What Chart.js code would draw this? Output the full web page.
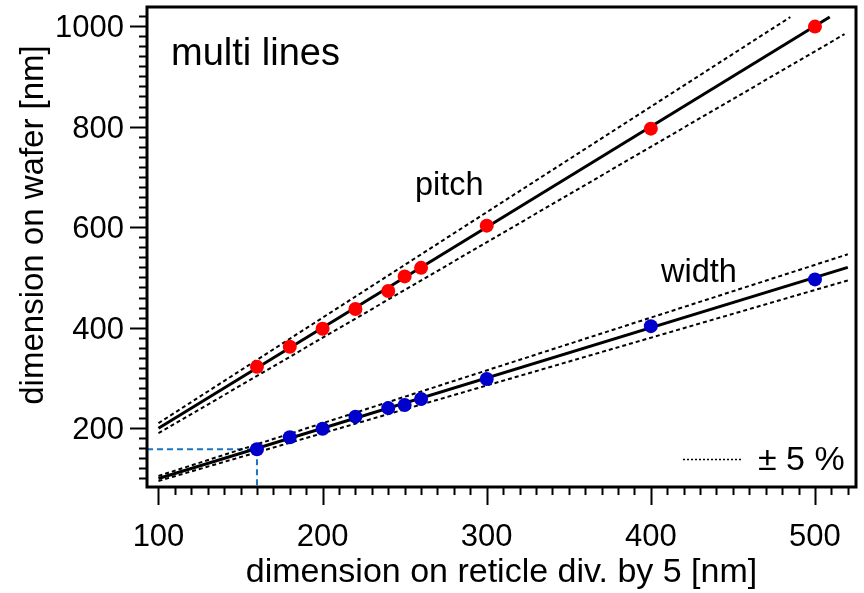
<!DOCTYPE html>
<html>
<head>
<meta charset="utf-8">
<script src="https://cdn.jsdelivr.net/npm/chart.js@4.4.1/dist/chart.umd.min.js"></script>
<style>
  html, body { margin: 0; padding: 0; background: #fff; }
  #wrap { width: 864px; height: 593px; }
</style>
</head>
<body>
<div id="wrap"><canvas id="chart" width="864" height="593"></canvas></div>
<script>
    'use strict';

    // --- measured data (reticle dimension / 5 vs. dimension on wafer) ---
    const reticleX = [160, 180, 200, 220, 240, 250, 260, 300, 400, 500];
    const pitchY   = [322, 362, 398, 437, 473, 502, 519, 603, 796, 999];
    const widthY   = [158, 182, 199, 223, 240, 246, 258, 298, 403, 496];

    // fit lines and the +/-5 % band (end points)
    const pitchFitX   = [100, 509];
    const pitchFitY   = [200, 1018];
    const pitchUpperX = [100, 485];
    const pitchUpperY = [210, 1018];
    const pitchLowerX = [100, 518];
    const pitchLowerY = [190, 984];

    const widthFitX   = [100, 520];
    const widthFitY   = [100, 520];
    const widthUpperX = [100, 520];
    const widthUpperY = [105, 546];
    const widthLowerX = [100, 520];
    const widthLowerY = [95, 494];

    // reference mark at the first width point
    const refX = 160;
    const refY = 158;

    // axes
    const xMin = 93, xMax = 525;
    const yMin = 83, yMax = 1038;
    const xMajorTicks = [100, 200, 300, 400, 500];
    const yMajorTicks = [200, 400, 600, 800, 1000];
    const xMinorStep = 10;
    const yMinorStep = 20;

    const FONT = '"Liberation Sans", Arial, Helvetica, sans-serif';

    function zip(xs, ys) { return xs.map((x, i) => ({ x: x, y: ys[i] })); }

    function dashed(data) {
        return {
            data: data, showLine: true, pointRadius: 0, borderColor: '#000',
            borderWidth: 2, borderDash: [4, 3], order: 3
        };
    }

    const decorPlugin = {
        id: 'decor',
        afterDraw(chart) {
            const { ctx, chartArea: a, scales: { x, y } } = chart;
            ctx.save();

            // ticks
            ctx.strokeStyle = '#000';
            ctx.lineWidth = 2;
            ctx.beginPath();
            for (let v = 100; v <= 520; v += xMinorStep) {
                const px = Math.round(x.getPixelForValue(v)) + 0.5;
                const len = xMajorTicks.includes(v) ? 18 : 8;
                ctx.moveTo(px, a.bottom);
                ctx.lineTo(px, a.bottom + len);
            }
            for (let v = 100; v <= 1020; v += yMinorStep) {
                const py = Math.round(y.getPixelForValue(v)) + 0.5;
                const len = yMajorTicks.includes(v) ? 17 : 8;
                ctx.moveTo(a.left, py);
                ctx.lineTo(a.left - len, py);
            }
            ctx.stroke();

            // frame
            ctx.lineWidth = 3;
            ctx.strokeRect(a.left, a.top, a.right - a.left, a.bottom - a.top);

            // tick labels
            ctx.fillStyle = '#000';
            ctx.font = '31px ' + FONT;
            ctx.textBaseline = 'alphabetic';
            ctx.textAlign = 'center';
            xMajorTicks.forEach(v => ctx.fillText(String(v), x.getPixelForValue(v), 546));
            ctx.textAlign = 'right';
            yMajorTicks.forEach(v => ctx.fillText(String(v), a.left - 23, y.getPixelForValue(v) + 11));

            // axis titles
            ctx.font = '34px ' + FONT;
            ctx.textAlign = 'center';
            ctx.fillText('dimension on reticle div. by 5 [nm]', (a.left + a.right) / 2, 582);
            ctx.font = '33px ' + FONT;
            ctx.save();
            ctx.translate(43, 225);
            ctx.rotate(-Math.PI / 2);
            ctx.fillText('dimension on wafer [nm]', 0, 0);
            ctx.restore();

            // annotations
            ctx.textAlign = 'left';
            ctx.font = '38px ' + FONT;
            ctx.fillText('multi lines', 171, 65);
            ctx.font = '32.5px ' + FONT;
            ctx.fillText('pitch', 415, 195);
            ctx.fillText('width', 661, 282);

            // legend for the band
            ctx.lineWidth = 1.5;
            ctx.setLineDash([2, 2]);
            ctx.beginPath();
            ctx.moveTo(683, 459.5);
            ctx.lineTo(742, 459.5);
            ctx.stroke();
            ctx.setLineDash([]);
            ctx.font = '34px ' + FONT;
            ctx.fillText('\u00b1 5 %', 758, 470);

            ctx.restore();
        }
    };

    new Chart(document.getElementById('chart'), {
        type: 'scatter',
        data: {
            datasets: [
                { data: zip(reticleX, pitchY), pointRadius: 7, pointHoverRadius: 7,
                  backgroundColor: '#ff0000', borderWidth: 0, order: 0 },
                { data: zip(reticleX, widthY), pointRadius: 7, pointHoverRadius: 7,
                  backgroundColor: '#0000cd', borderWidth: 0, order: 0 },
                { data: zip(pitchFitX, pitchFitY), showLine: true, pointRadius: 0,
                  borderColor: '#000', borderWidth: 3, order: 2 },
                { data: zip(widthFitX, widthFitY), showLine: true, pointRadius: 0,
                  borderColor: '#000', borderWidth: 3, order: 2 },
                dashed(zip(pitchUpperX, pitchUpperY)),
                dashed(zip(pitchLowerX, pitchLowerY)),
                dashed(zip(widthUpperX, widthUpperY)),
                dashed(zip(widthLowerX, widthLowerY)),
                { data: [{ x: xMin, y: refY }, { x: refX, y: refY }, { x: refX, y: yMin }],
                  showLine: true, pointRadius: 0, borderColor: '#1a74c4',
                  borderWidth: 2, borderDash: [6, 4], order: 4 }
            ]
        },
        options: {
            responsive: false,
            animation: false,
            devicePixelRatio: 1,
            layout: { padding: { top: 7, right: 8, left: 0, bottom: 0 } },
            plugins: { legend: { display: false }, tooltip: { enabled: false } },
            scales: {
                x: {
                    type: 'linear', min: xMin, max: xMax,
                    grid: { display: false }, border: { display: false },
                    ticks: { display: false },
                    afterFit: s => { s.height = 106; }
                },
                y: {
                    type: 'linear', min: yMin, max: yMax,
                    grid: { display: false }, border: { display: false },
                    ticks: { display: false },
                    afterFit: s => { s.width = 147; }
                }
            }
        },
        plugins: [decorPlugin]
    });
</script>
</body>
</html>
